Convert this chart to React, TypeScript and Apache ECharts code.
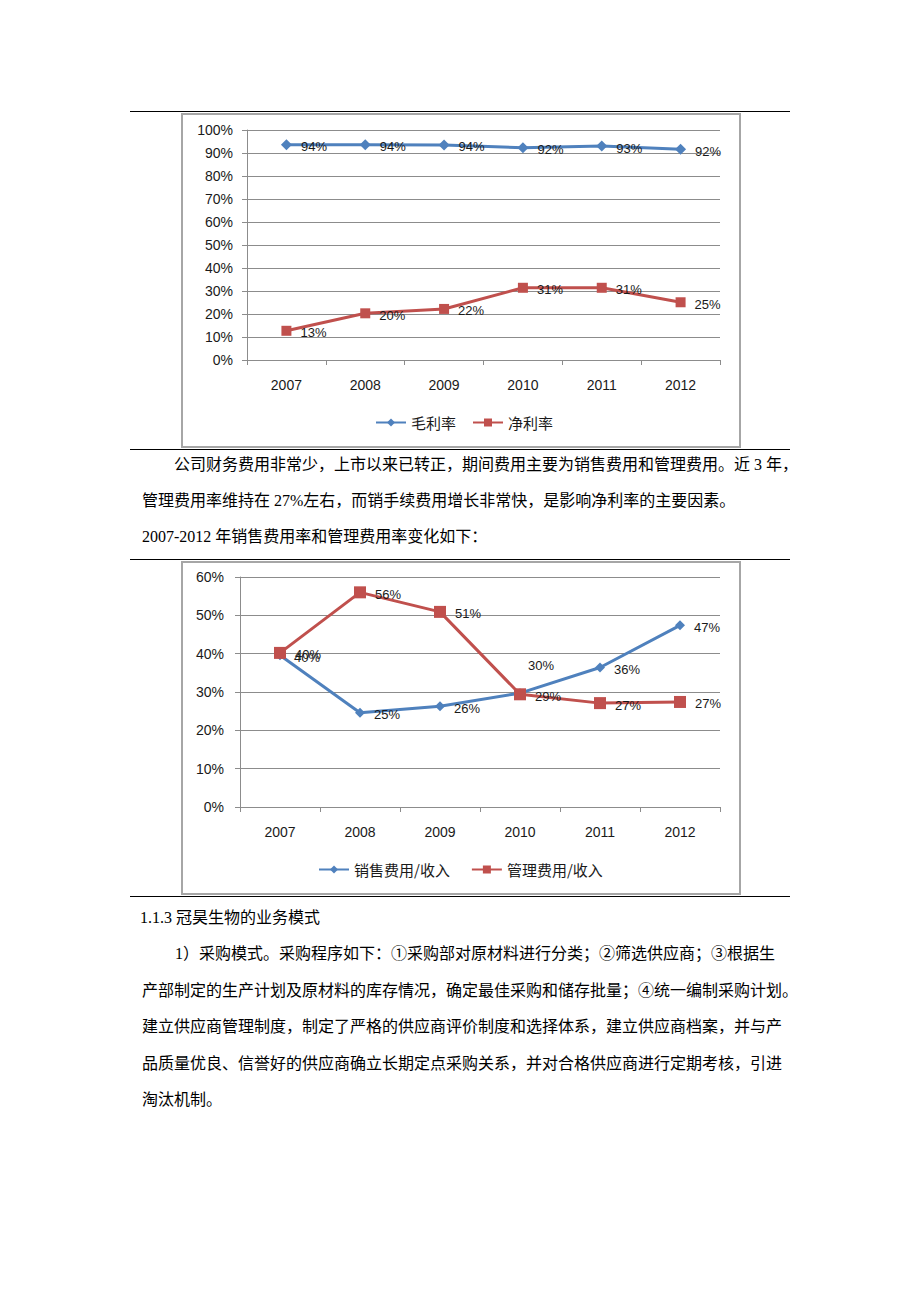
import React, { useEffect, useLayoutEffect, useRef, useState } from "react";
import * as echarts from "echarts";

// ---------- data ----------
const years = ["2007", "2008", "2009", "2010", "2011", "2012"];
const grossMargin = [0.936, 0.936, 0.935, 0.923, 0.93, 0.916];
const netMargin = [0.127, 0.203, 0.222, 0.314, 0.314, 0.251];
const salesRatio = [0.396, 0.246, 0.263, 0.297, 0.364, 0.474];
const adminRatio = [0.402, 0.56, 0.509, 0.294, 0.271, 0.274];
const chart1Legend = ["毛利率", "净利率"];
const chart2Legend = ["销售费用/收入", "管理费用/收入"];

const para1 = [
  "公司财务费用非常少，上市以来已转正，期间费用主要为销售费用和管理费用。近 3 年，",
  "管理费用率维持在 27%左右，而销手续费用增长非常快，是影响净利率的主要因素。",
  "2007-2012 年销售费用率和管理费用率变化如下：",
];
const sectionTitle = "1.1.3 冠昊生物的业务模式";
const para2 = [
  "1）采购模式。采购程序如下：①采购部对原材料进行分类；②筛选供应商；③根据生",
  "产部制定的生产计划及原材料的库存情况，确定最佳采购和储存批量；④统一编制采购计划。",
  "建立供应商管理制度，制定了严格的供应商评价制度和选择体系，建立供应商档案，并与产",
  "品质量优良、信誉好的供应商确立长期定点采购关系，并对合格供应商进行定期考核，引进",
  "淘汰机制。",
];

// ---------- styles ----------
const BLUE = "#4F81BD";
const RED = "#C0504D";
const AXIS = "#8c8c8c";
const TXT = "#1a1a1a";
const LATIN = "'Liberation Sans', Arial, sans-serif";
const CJK = "'Noto Sans CJK SC', sans-serif";
const DOC_FONT = "'Liberation Serif', 'Noto Sans CJK SC', serif";

const pct = (v: number) => Math.round(v * 100) + "%";

function baseOption(
  grid: any,
  legend: any,
  yLabelMargin: number,
  max: number,
  legendNames: string[]
) {
  return {
    animation: false,
    grid: { ...grid, containLabel: false, outerBoundsMode: "none" },
    legend: {
      ...legend,
      orient: "horizontal",
      itemWidth: 30,
      itemHeight: 10,
      padding: 0,
      data: legendNames,
      textStyle: { fontSize: 15, fontFamily: CJK, color: TXT },
    },
    xAxis: {
      type: "category",
      data: years,
      boundaryGap: true,
      axisLine: { show: true, lineStyle: { color: AXIS, width: 1 } },
      axisTick: { show: true, length: 5, lineStyle: { color: AXIS } },
      axisLabel: {
        interval: 0,
        margin: 18,
        fontSize: 14,
        color: TXT,
        fontFamily: LATIN,
      },
      splitLine: { show: false },
    },
    yAxis: {
      type: "value",
      min: 0,
      max,
      interval: 0.1,
      axisLine: { show: true, lineStyle: { color: AXIS, width: 1 } },
      axisTick: { show: true, length: 5, lineStyle: { color: AXIS } },
      axisLabel: {
        margin: yLabelMargin,
        fontSize: 14,
        color: TXT,
        fontFamily: LATIN,
        formatter: (v: number) => pct(v),
      },
      splitLine: { show: true, lineStyle: { color: AXIS, width: 1 } },
    },
  };
}

function lineSeries(
  name: string,
  data: any[],
  color: string,
  symbol: string,
  symbolSize: number
) {
  return {
    name,
    type: "line",
    data,
    symbol,
    symbolSize,
    showAllSymbol: true,
    lineStyle: { width: 3, color },
    itemStyle: { color },
    label: {
      show: true,
      position: "right",
      distance: 9,
      offset: [0, 2],
      fontSize: 13,
      color: TXT,
      fontFamily: LATIN,
      formatter: (p: any) => pct(p.value),
    },
    emphasis: { disabled: true },
  };
}

function Chart({ option, left, top, width, height }: any) {
  const ref = useRef<HTMLDivElement>(null);
  useEffect(() => {
    if (!ref.current) return;
    const chart = echarts.init(ref.current, undefined, { renderer: "svg" });
    chart.setOption(option);
    return () => chart.dispose();
  }, [option]);
  return (
    <>
      <div
        ref={ref}
        style={{ position: "absolute", left, top, width, height, background: "#fff" }}
      />
      <div
        style={{
          position: "absolute",
          left,
          top,
          width,
          height,
          boxSizing: "border-box",
          border: "2px solid #a6a6a6",
          pointerEvents: "none",
        }}
      />
    </>
  );
}

function FitLine({ text, left, cy, right, justify }: any) {
  const ref = useRef<HTMLSpanElement>(null);
  const [ls, setLs] = useState(0);
  useLayoutEffect(() => {
    if (!justify) return;
    const measure = () => {
      const el = ref.current;
      if (!el) return;
      el.style.letterSpacing = "0px";
      const w = el.getBoundingClientRect().width;
      const n = Array.from(text as string).length;
      const target = right - left;
      el.style.letterSpacing = "";
      setLs((target - w) / (n - 1));
    };
    measure();
    (document as any).fonts?.ready?.then(measure);
  }, [text, left, right, justify]);
  return (
    <div
      style={{
        position: "absolute",
        left,
        top: cy - 12,
        height: 24,
        lineHeight: "24px",
        whiteSpace: "pre",
        fontSize: 16,
        fontFamily: DOC_FONT,
        color: "#000",
      }}
    >
      <span ref={ref} style={{ letterSpacing: justify ? ls + "px" : undefined }}>
        {text}
      </span>
    </div>
  );
}

const Rule = ({ y }: { y: number }) => (
  <div
    style={{
      position: "absolute",
      left: 130,
      top: y,
      width: 660,
      height: 1,
      background: "#000",
    }}
  />
);

const option1 = {
  ...baseOption(
    { left: 66, right: 21, top: 17, bottom: 88 },
    { left: 194, top: 302, itemGap: 16 },
    14,
    1,
    chart1Legend
  ),
  series: [
    lineSeries(chart1Legend[0], grossMargin, BLUE, "diamond", 11),
    lineSeries(chart1Legend[1], netMargin, RED, "rect", 10),
  ],
};

const option2 = {
  ...baseOption(
    { left: 59, right: 21, top: 16, bottom: 88 },
    { left: 137, top: 301, itemGap: 21 },
    16,
    0.6,
    chart2Legend
  ),
  series: [
    lineSeries(
      chart2Legend[0],
      salesRatio.map((v, i) =>
        i === 3 ? { value: v, label: { offset: [-6, -28] } } : v
      ),
      BLUE,
      "diamond",
      10
    ),
    lineSeries(chart2Legend[1], adminRatio, RED, "rect", 12),
  ],
};

export default function App() {
  const p1y = [465, 501, 537];
  const p2y = [954, 991, 1027, 1064, 1100];
  return (
    <div
      style={{
        position: "absolute",
        left: 0,
        top: 0,
        width: 920,
        height: 1302,
        background: "#fff",
        overflow: "hidden",
      }}
    >
      <Rule y={111} />
      <Chart option={option1} left={181} top={113} width={560} height={335} />
      <Rule y={449} />
      {para1.map((t, i) => (
        <FitLine
          key={"a" + i}
          text={t}
          left={i === 0 ? 174 : 142}
          cy={p1y[i]}
          right={789}
          justify={i < para1.length - 1}
        />
      ))}
      <Rule y={559} />
      <Chart option={option2} left={181} top={561} width={560} height={334} />
      <Rule y={896} />
      <FitLine text={sectionTitle} left={140} cy={918} right={789} justify={false} />
      {para2.map((t, i) => (
        <FitLine
          key={"b" + i}
          text={t}
          left={i === 0 ? 175 : 142}
          cy={p2y[i]}
          right={789}
          justify={i < para2.length - 1}
        />
      ))}
    </div>
  );
}
